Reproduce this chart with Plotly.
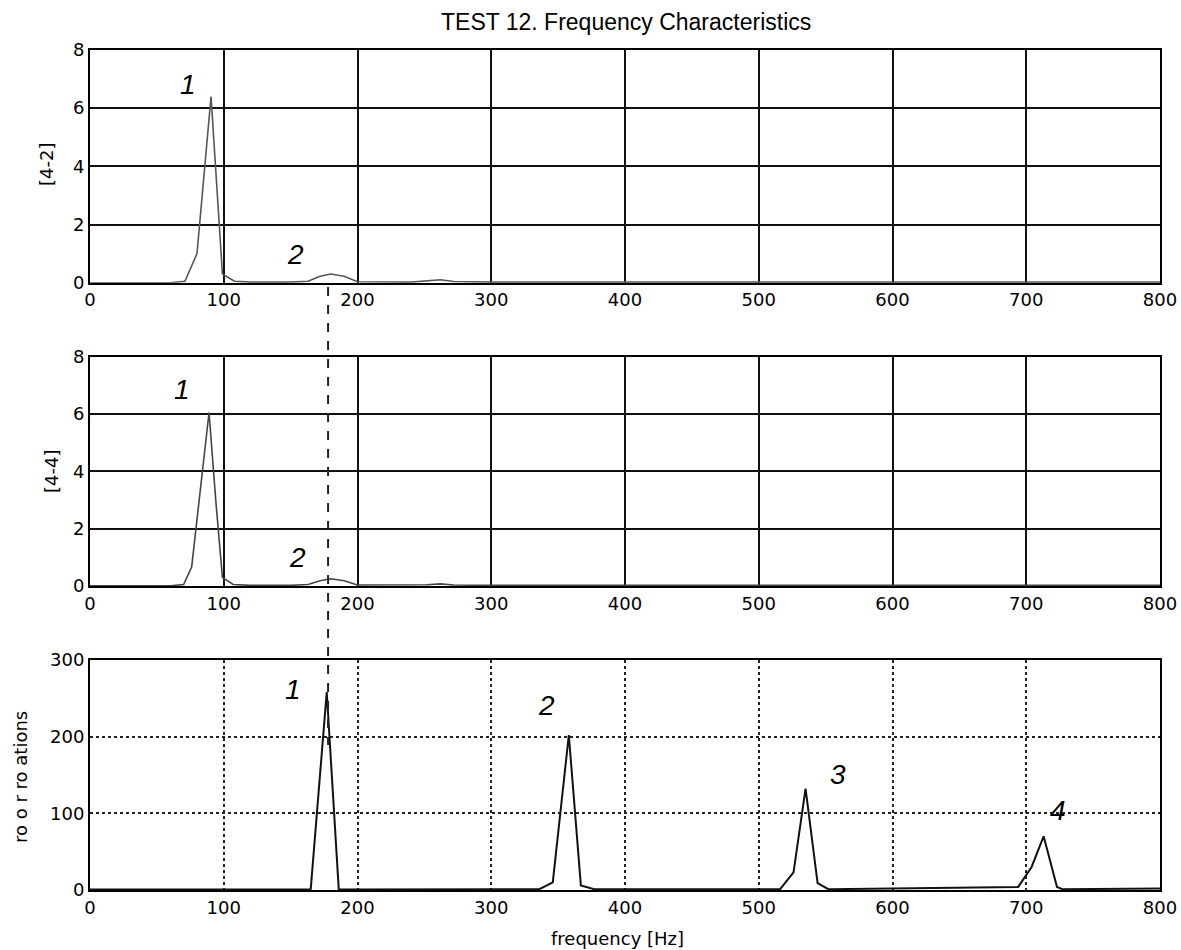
import plotly.graph_objects as go

# ---- data ----
f42 = [0, 60, 71, 80, 90.5, 95, 99, 108, 120, 150, 163, 172, 180, 190, 200, 240, 252, 262, 272, 300, 800]
a42 = [0, 0, 0.05, 1.0, 6.4, 3.2, 0.3, 0.05, 0.02, 0.02, 0.05, 0.22, 0.3, 0.22, 0.03, 0.02, 0.06, 0.1, 0.04, 0.02, 0.02]

f44 = [0, 60, 70, 76, 89, 94, 99, 107, 120, 150, 163, 172, 180, 190, 200, 240, 252, 262, 272, 300, 800]
a44 = [0, 0, 0.05, 0.66, 6.05, 3.0, 0.3, 0.05, 0.02, 0.02, 0.05, 0.18, 0.25, 0.18, 0.03, 0.02, 0.04, 0.07, 0.03, 0.02, 0.02]

frot = [0, 165, 177, 186, 336, 346, 358, 367, 377, 516, 526, 535, 544, 552, 694, 704, 713, 723, 727, 800]
arot = [0.5, 0.5, 258, 0.5, 1, 10, 202, 6, 1, 1, 23, 132, 9, 1, 4, 30, 70, 4, 1, 2]

x_ticks = [0, 100, 200, 300, 400, 500, 600, 700, 800]
y_ticks_small = [0, 2, 4, 6, 8]
y_ticks_rot = [0, 100, 200, 300]

title_text = "TEST 12. Frequency Characteristics"
y_titles = ["[4-2]", "[4-4]", "ro o r ro ations"]
x_title = "frequency [Hz]"

# ---- figure ----
FONT = "DejaVu Sans"
fig = go.Figure()
fig.add_trace(go.Scatter(x=f42, y=a42, mode="lines", line=dict(color="#555555", width=1.6),
                         xaxis="x", yaxis="y", showlegend=False))
fig.add_trace(go.Scatter(x=f44, y=a44, mode="lines", line=dict(color="#444444", width=1.6),
                         xaxis="x2", yaxis="y2", showlegend=False))
fig.add_trace(go.Scatter(x=frot, y=arot, mode="lines", line=dict(color="#111111", width=2),
                         xaxis="x3", yaxis="y3", showlegend=False))

def xax(anchor):
    return dict(range=[0, 800], tickvals=x_ticks, ticktext=[str(v) for v in x_ticks],
                anchor=anchor, domain=[0, 1], showline=True, linecolor="black", linewidth=2,
                mirror=True, ticks="", showgrid=True, gridwidth=2, zeroline=False,
                automargin=False, tickfont=dict(family=FONT, size=18, color="black"))

def yax(anchor, dom, rng, tv, grid_dash, gw, gc):
    return dict(range=rng, tickvals=tv, ticktext=[str(v) for v in tv], anchor=anchor, domain=dom,
                showline=True, linecolor="black", linewidth=2, mirror=True, ticks="",
                showgrid=True, gridcolor=gc, gridwidth=gw, griddash=grid_dash, zeroline=False,
                automargin=False, tickfont=dict(family=FONT, size=18, color="black"))

xa1 = xax("y"); xa1.update(gridcolor="#111111")
xa2 = xax("y2"); xa2.update(gridcolor="#111111")
xa3 = xax("y3"); xa3.update(gridcolor="#222222", griddash="dot")

fig.update_layout(
    width=1181, height=950,
    margin=dict(l=90, r=21, t=50, b=60),
    paper_bgcolor="white", plot_bgcolor="white",
    xaxis=xa1, xaxis2=xa2, xaxis3=xa3,
    yaxis=yax("x", [0.723, 1.0], [0, 8], y_ticks_small, "solid", 2, "#111111"),
    yaxis2=yax("x2", [0.362, 0.635], [0, 8], y_ticks_small, "solid", 2, "#111111"),
    yaxis3=yax("x3", [0.0, 0.274], [0, 300], y_ticks_rot, "dot", 2, "#222222"),
    font=dict(family=FONT, color="black"),
)

def px(xp, yp):
    return (xp - 90) / 1070, 1 - (yp - 50) / 840

ann = []
tx, ty = px(626, 22)
ann.append(dict(text=title_text, x=tx, y=ty, xref="paper", yref="paper", showarrow=False,
                xanchor="center", yanchor="middle",
                font=dict(family="Liberation Sans", size=23)))

for text, (xp, yp) in [(y_titles[0], (47, 165)), (y_titles[1], (51, 472)), (y_titles[2], (20, 777))]:
    ax_, ay_ = px(xp, yp)
    ann.append(dict(text=text, x=ax_, y=ay_, xref="paper", yref="paper", showarrow=False,
                    xanchor="center", yanchor="middle", textangle=-90, font=dict(size=18)))
ax_, ay_ = px(617, 938)
ann.append(dict(text=x_title, x=ax_, y=ay_, xref="paper", yref="paper", showarrow=False,
                xanchor="center", yanchor="middle", font=dict(size=18)))

labels = [("1", 73, 6.8, "x", "y"), ("2", 154, 0.96, "x", "y"),
          ("1", 69, 6.85, "x2", "y2"), ("2", 155, 0.98, "x2", "y2"),
          ("1", 152, 261, "x3", "y3"), ("2", 341, 241, "x3", "y3"),
          ("3", 559, 150, "x3", "y3"), ("4", 724, 104, "x3", "y3")]
for t, x, y, xr, yr in labels:
    ann.append(dict(text="<i>" + t + "</i>", x=x, y=y, xref=xr, yref=yr, showarrow=False,
                    xanchor="center", yanchor="middle",
                    font=dict(family="Liberation Sans", size=28)))
fig.update_layout(annotations=ann)

# dashed vertical marker line at ~178 Hz running from panel 1 to panel 3
_, y0 = px(0, 287)
_, y1 = px(0, 745)
fig.add_shape(type="line", xref="x3", yref="paper", x0=178, x1=178, y0=y0, y1=y1,
              line=dict(color="#222222", width=2, dash="dash"))

fig.write_html("out.html")
